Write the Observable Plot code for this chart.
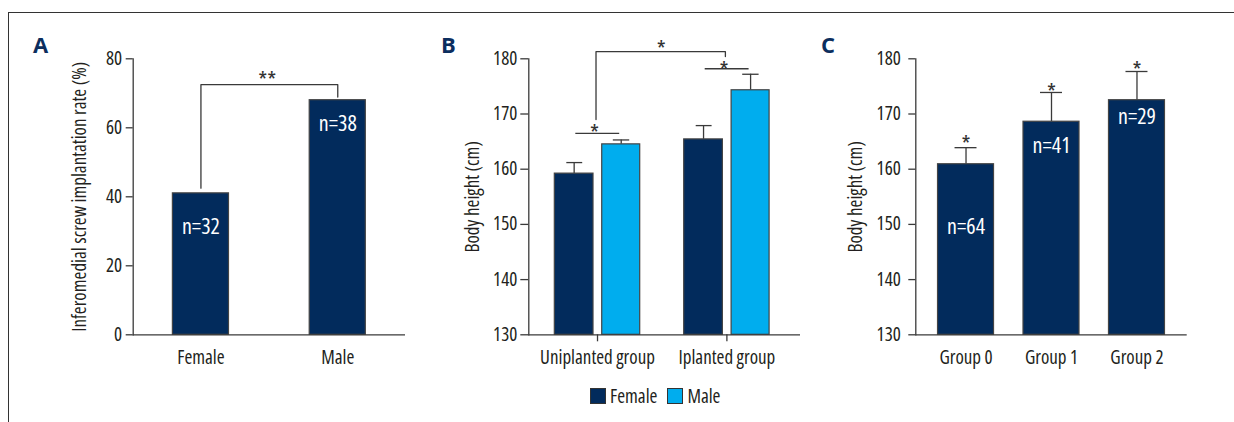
<!DOCTYPE html>
<html>
<head>
<meta charset="utf-8">
<script src="https://cdn.jsdelivr.net/npm/d3@7"></script>
<script src="https://cdn.jsdelivr.net/npm/@observablehq/plot@0.6"></script>
<style>
  body { margin: 0; background: #fff; }
  #root { position: relative; width: 1234px; height: 422px; overflow: hidden; background: #fff; }
  #border { position: absolute; left: 8px; top: 12px; width: 1240px; height: 420px; border-left: 1px solid #333; border-top: 1px solid #333; }
  .panel { position: absolute; top: 0; }
  .letter { position: absolute; top: 33px; font-family: "Open Sans", sans-serif; font-weight: bold; font-size: 22px; line-height: 22px; color: #0c2e5e; }
  #legend { position: absolute; left: 590px; top: 383px; display: flex; align-items: center; font-family: "Open Sans", sans-serif; font-stretch: 75%; font-size: 19px; color: #231f20; }
  #legend .sw { width: 14px; height: 14px; border: 1px solid #333; margin-right: 4px; }
  #legend .item { display: flex; align-items: center; margin-right: 10px; }
</style>
</head>
<body>
<div id="root">
  <div id="border"></div>
  <div class="letter" style="left:33px">A</div>
  <div class="letter" style="left:441px">B</div>
  <div class="letter" style="left:821px">C</div>
  <div id="legend"></div>
</div>
<script>
// ---------- Panel A data ----------
const sexA = ["Female", "Male"];
const rateA = [41, 68];
const nTextA = ["n=32", "n=38"];
const nLabelYA = [31.4, 61.0];
const bracketXA = ["Female", "Female", "Male", "Male"];
const bracketYA = [42.5, 72.5, 72.5, 68.9];
const starTextA = "**";
const starYA = 75.0;
const yTicksA = [0, 20, 40, 60, 80];

// ---------- Panel B data ----------
const groupsB = ["Uniplanted group", "Iplanted group"];
const sexesB = ["Female", "Male"];
const femaleHeightB = [159.2, 165.4];
const maleHeightB = [164.5, 174.3];
const femaleErrB = [2.0, 2.5];
const maleErrB = [0.8, 2.9];
const withinLineB = [166.5, 178.2];
const withinStarB = [167.4, 178.8];
const bracketXB = ["Uniplanted group", "Uniplanted group", "Iplanted group", "Iplanted group"];
const bracketYB = [169.0, 181.3, 181.3, 180.4];
const betweenStarB = 182.6;
const colorsB = ["#022b5c", "#00adee"];

// ---------- Panel C data ----------
const groupsC = ["Group 0", "Group 1", "Group 2"];
const heightC = [160.9, 168.6, 172.5];
const errC = [3.0, 5.3, 5.2];
const nTextC = ["n=64", "n=41", "n=29"];
const nLabelYC = [149.6, 164.3, 169.4];
const starYC = [165.3, 174.7, 178.8];

const yTicksBC = [130, 140, 150, 160, 170, 180];
const yDomainBC = [130, 180];

// ---------- styles ----------
const FONT = '"Open Sans", sans-serif';
const NAVY = "#022b5c";
const LINE = "#3a3a3a";
const OUTLINE = "#444";
const STAR = { fontSize: 23, fill: "#333", dy: 6 };
const baseStyle = { background: "transparent", fontFamily: FONT, fontStretch: "75%", fontSize: "19px", color: "#231f20", overflow: "visible" };

// ---------- Panel A ----------
const dataA = sexA.map((s, i) => ({ sex: s, rate: rateA[i], n: nTextA[i], ny: nLabelYA[i] }));
const bracketA = bracketXA.map((x, i) => ({ x, y: bracketYA[i] }));
const plotA = Plot.plot({
  width: 420, height: 380,
  marginLeft: 132.7, marginRight: 15, marginTop: 58.3, marginBottom: 45.7,
  style: baseStyle,
  x: { domain: sexA, paddingInner: 0.59, paddingOuter: 0.29, round: false },
  y: { domain: [0, 80] },
  marks: [
    Plot.barY(dataA, { x: "sex", y: "rate", fill: NAVY, stroke: OUTLINE, strokeWidth: 1.2 }),
    Plot.ruleY([0], { stroke: LINE, strokeWidth: 1.3 }),
    Plot.frame({ anchor: "left", stroke: LINE, strokeWidth: 1.3 }),
    Plot.axisY({ ticks: yTicksA, tickSize: 7, tickPadding: 4, stroke: LINE, strokeWidth: 1.3,
      label: "Inferomedial screw implantation rate (%)", labelAnchor: "center", labelArrow: "none", labelOffset: 61 }),
    Plot.axisX({ tickSize: 0, tickPadding: 15.5, label: null }),
    Plot.line(bracketA, { x: "x", y: "y", stroke: LINE, strokeWidth: 1.3 }),
    Plot.text([starYA], { y: d => d, text: () => starTextA, dx: -2, ...STAR }),
    Plot.text(dataA, { x: "sex", y: "ny", text: "n", fill: "white", fontSize: 22 })
  ]
});
plotA.classList.add("panel");
plotA.style.left = "0px";

// ---------- Panel B ----------
const dataB = groupsB.flatMap((g, i) => [
  { group: g, sex: sexesB[0], value: femaleHeightB[i], err: femaleErrB[i] },
  { group: g, sex: sexesB[1], value: maleHeightB[i], err: maleErrB[i] }
]);
const fB = dataB.filter(d => d.sex === sexesB[0]);
const mB = dataB.filter(d => d.sex === sexesB[1]);
const withinB = groupsB.map((g, i) => ({ group: g, line: withinLineB[i], star: withinStarB[i] }));
const bracketB = bracketXB.map((x, i) => ({ x, y: bracketYB[i] }));
const plotB = Plot.plot({
  width: 390, height: 380,
  marginLeft: 108.3, marginRight: 10, marginTop: 58.3, marginBottom: 45.7,
  style: baseStyle,
  x: { domain: groupsB, paddingInner: 0.34, paddingOuter: 0.22, align: 0.457, round: false },
  y: { domain: yDomainBC },
  color: { domain: sexesB, range: colorsB },
  marks: [
    Plot.ruleX(fB, { x: "group", y1: "value", y2: d => d.value + d.err, dx: -23.35, stroke: LINE, strokeWidth: 1.3 }),
    Plot.tickY(fB, { x: "group", y: d => d.value + d.err, insetLeft: 12, insetRight: 57.5, stroke: LINE, strokeWidth: 1.3 }),
    Plot.ruleX(mB, { x: "group", y1: "value", y2: d => d.value + d.err, dx: 23.7, stroke: LINE, strokeWidth: 1.3 }),
    Plot.tickY(mB, { x: "group", y: d => d.value + d.err, insetLeft: 58.5, insetRight: 10.5, stroke: LINE, strokeWidth: 1.3 }),
    Plot.barY(fB, { x: "group", y1: yDomainBC[0], y2: "value", fill: "sex", stroke: OUTLINE, strokeWidth: 1.2, insetRight: 46.7 }),
    Plot.barY(mB, { x: "group", y1: yDomainBC[0], y2: "value", fill: "sex", stroke: OUTLINE, strokeWidth: 1.2, insetLeft: 47.4 }),
    Plot.ruleY([yDomainBC[0]], { stroke: LINE, strokeWidth: 1.3 }),
    Plot.frame({ anchor: "left", stroke: LINE, strokeWidth: 1.3 }),
    Plot.axisY({ ticks: yTicksBC, tickSize: 8, tickPadding: 3.5, stroke: LINE, strokeWidth: 1.3,
      label: "Body height (cm)", labelAnchor: "center", labelArrow: "none", labelOffset: 63 }),
    Plot.axisX({ tickSize: 7, tickPadding: 8.5, stroke: LINE, strokeWidth: 1.3, label: null }),
    Plot.tickY(withinB, { x: "group", y: "line", insetLeft: 21, insetRight: 20.5, stroke: LINE, strokeWidth: 1.3 }),
    Plot.text(withinB, { x: "group", y: "star", text: () => "*", dx: -3, ...STAR }),
    Plot.line(bracketB, { x: "x", y: "y", dx: -1.5, stroke: LINE, strokeWidth: 1.3 }),
    Plot.text([betweenStarB], { y: d => d, text: () => "*", dx: -3.5, ...STAR })
  ]
});
plotB.classList.add("panel");
plotB.style.left = "420px";

// ---------- Panel C ----------
const dataC = groupsC.map((g, i) => ({ group: g, value: heightC[i], err: errC[i], n: nTextC[i], ny: nLabelYC[i], star: starYC[i] }));
const plotC = Plot.plot({
  width: 424, height: 380,
  marginLeft: 105.3, marginRight: 47.3, marginTop: 58.3, marginBottom: 45.7,
  style: baseStyle,
  x: { domain: groupsC, paddingInner: 0.345, paddingOuter: 0.26, round: false },
  y: { domain: yDomainBC },
  marks: [
    Plot.ruleX(dataC, { x: "group", y1: "value", y2: d => d.value + d.err, stroke: LINE, strokeWidth: 1.3 }),
    Plot.tickY(dataC, { x: "group", y: d => d.value + d.err, insetLeft: 17, insetRight: 17, stroke: LINE, strokeWidth: 1.3 }),
    Plot.barY(dataC, { x: "group", y1: yDomainBC[0], y2: "value", fill: NAVY, stroke: OUTLINE, strokeWidth: 1.2 }),
    Plot.ruleY([yDomainBC[0]], { stroke: LINE, strokeWidth: 1.3 }),
    Plot.frame({ anchor: "left", stroke: LINE, strokeWidth: 1.3 }),
    Plot.axisY({ ticks: yTicksBC, tickSize: 7, tickPadding: 8, stroke: LINE, strokeWidth: 1.3,
      label: "Body height (cm)", labelAnchor: "center", labelArrow: "none", labelOffset: 67 }),
    Plot.axisX({ tickSize: 0, tickPadding: 15.5, label: null }),
    Plot.text(dataC, { x: "group", y: "star", text: () => "*", ...STAR }),
    Plot.text(dataC, { x: "group", y: "ny", text: "n", fill: "white", fontSize: 22 })
  ]
});
plotC.classList.add("panel");
plotC.style.left = "810px";

const root = document.getElementById("root");
root.appendChild(plotA);
root.appendChild(plotB);
root.appendChild(plotC);

// ---------- Legend (from panel B's color scale) ----------
const colorScale = plotB.scale("color");
const legend = document.getElementById("legend");
colorScale.domain.forEach((d, i) => {
  const item = document.createElement("div");
  item.className = "item";
  const sw = document.createElement("div");
  sw.className = "sw";
  sw.style.background = colorScale.range[i];
  const label = document.createElement("span");
  label.textContent = d;
  item.appendChild(sw);
  item.appendChild(label);
  legend.appendChild(item);
});
</script>
</body>
</html>
